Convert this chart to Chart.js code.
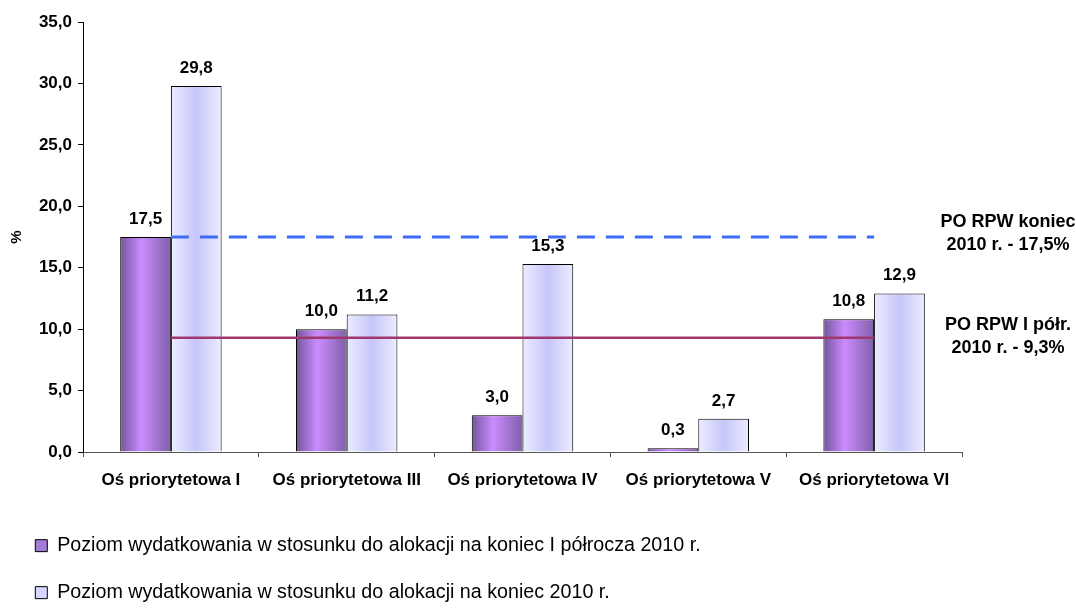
<!DOCTYPE html>
<html>
<head>
<meta charset="utf-8">
<script src="https://cdn.jsdelivr.net/npm/chart.js@4/dist/chart.umd.min.js"></script>
<style>
  html, body { margin: 0; padding: 0; background: #fff; overflow: hidden; }
  #wrap { width: 1076px; height: 608px; position: relative; }
</style>
</head>
<body>
<div id="wrap"><canvas id="c"></canvas></div>
<script>
const categories = ['Oś priorytetowa I', 'Oś priorytetowa III', 'Oś priorytetowa IV', 'Oś priorytetowa V', 'Oś priorytetowa VI'];
const seriesHalf = [17.5, 10.0, 3.0, 0.3, 10.8];
const seriesYear = [29.8, 11.2, 15.3, 2.7, 12.9];
const seriesNames = [
  'Poziom wydatkowania w stosunku do alokacji na koniec I półrocza 2010 r.',
  'Poziom wydatkowania w stosunku do alokacji na koniec 2010 r.'
];
const refYear = 17.5;
const refHalf = 9.3;
const refLabels = [
  ['PO RPW koniec', '2010 r. - 17,5%'],
  ['PO RPW I półr.', '2010 r. - 9,3%']
];
const yTicks = [0, 5, 10, 15, 20, 25, 30, 35];

const FONT = "'Liberation Sans', Arial, sans-serif";
const CAT_PCT = 0.577;
const fmt = v => v.toFixed(1).replace('.', ',');

const gradStops = [
  [[0, '#735599'], [0.42, '#cc8cff'], [1, '#7e5fa8']],
  [[0, '#ececff'], [0.5, '#c6c6fb'], [1, '#ececff']]
];

function barFill(ctx) {
  const chart = ctx.chart;
  const xs = chart.scales && chart.scales.x;
  const stops = gradStops[ctx.datasetIndex];
  if (!chart.chartArea || !xs || ctx.dataIndex === undefined) return stops[1][1];
  const catW = xs.width / categories.length;
  const bw = catW * CAT_PCT / 2;
  const c = xs.getPixelForValue(ctx.dataIndex);
  const left = ctx.datasetIndex === 0 ? c - bw : c;
  const g = chart.ctx.createLinearGradient(left, 0, left + bw, 0);
  stops.forEach(s => g.addColorStop(s[0], s[1]));
  return g;
}

const refLine = (vals, color, dash, w) => ({
  type: 'line',
  data: categories.map(() => vals),
  borderColor: color,
  borderWidth: w,
  borderDash: dash,
  pointRadius: 0,
  pointHoverRadius: 0,
  fill: false,
  order: 0
});

const valueLabels = {
  id: 'valueLabels',
  afterDatasetsDraw(chart) {
    const ctx = chart.ctx;
    ctx.save();
    ctx.font = 'bold 17px ' + FONT;
    ctx.fillStyle = '#000';
    ctx.textAlign = 'center';
    ctx.textBaseline = 'middle';
    [0, 1].forEach(di => {
      const meta = chart.getDatasetMeta(di);
      meta.data.forEach((el, i) => {
        const v = chart.data.datasets[di].data[i];
        ctx.fillText(fmt(v), el.x, el.y - 18);
      });
    });
    ctx.restore();
  }
};

const sideLabels = {
  id: 'sideLabels',
  afterDraw(chart) {
    const ctx = chart.ctx;
    const ys = chart.scales.y;
    ctx.save();
    ctx.font = 'bold 18px ' + FONT;
    ctx.fillStyle = '#000';
    ctx.textAlign = 'center';
    ctx.textBaseline = 'middle';
    const xC = 1008;
    const y1 = ys.getPixelForValue(refYear);
    const y2 = ys.getPixelForValue(refHalf);
    ctx.fillText(refLabels[0][0], xC, y1 - 15);
    ctx.fillText(refLabels[0][1], xC, y1 + 8);
    ctx.fillText(refLabels[1][0], xC, y2 - 13);
    ctx.fillText(refLabels[1][1], xC, y2 + 10);
    ctx.restore();
  }
};

new Chart(document.getElementById('c'), {
  type: 'bar',
  data: {
    labels: categories,
    datasets: [
      {
        label: seriesNames[0],
        data: seriesHalf,
        backgroundColor: barFill,
        borderColor: '#000',
        borderWidth: 1,
        barPercentage: 1,
        categoryPercentage: CAT_PCT,
        order: 1
      },
      {
        label: seriesNames[1],
        data: seriesYear,
        backgroundColor: barFill,
        borderColor: '#000',
        borderWidth: 1,
        barPercentage: 1,
        categoryPercentage: CAT_PCT,
        order: 1
      },
      refLine(refYear, '#3d6df2', [18, 11], 3),
      refLine(refHalf, '#a0386e', [], 2.5)
    ]
  },
  options: {
    responsive: true,
    maintainAspectRatio: false,
    animation: false,
    layout: { padding: { left: 8, right: 114, top: 22, bottom: -4.5 } },
    plugins: {
      tooltip: { enabled: false },
      legend: {
        display: true,
        position: 'bottom',
        align: 'start',
        labels: {
          boxWidth: 12,
          boxHeight: 12,
          padding: 27.3,
          color: '#000',
          font: { family: FONT, size: 19.7 },
          generateLabels: () => [
            { text: seriesNames[0], fillStyle: '#a27bd8', strokeStyle: '#000', lineWidth: 1, datasetIndex: 0 },
            { text: seriesNames[1], fillStyle: '#d6d6ff', strokeStyle: '#000', lineWidth: 1, datasetIndex: 1 }
          ]
        }
      }
    },
    scales: {
      x: {
        grid: { display: true, drawOnChartArea: false, drawTicks: true, tickLength: 5, color: '#555', offset: true },
        border: { display: true, color: '#555', width: 1 },
        ticks: { color: '#000', font: { family: FONT, size: 17, weight: 'bold' }, padding: 13, maxRotation: 0, autoSkip: false },
        afterFit(scale) { scale.height = 56.5; }
      },
      y: {
        min: 0,
        max: 35,
        afterBuildTicks(scale) { scale.ticks = yTicks.map(v => ({ value: v })); },
        grid: { display: true, drawOnChartArea: false, drawTicks: true, tickLength: 5, color: '#000' },
        border: { display: true, color: '#000', width: 1 },
        ticks: { color: '#000', font: { family: FONT, size: 17, weight: 'bold' }, padding: 6, callback: v => fmt(v) },
        title: { display: true, text: '%', color: '#000', font: { family: FONT, size: 15, weight: 'bold' }, padding: { top: 0, bottom: 0 } },
        afterFit(scale) { scale.width = 75; }
      }
    }
  },
  plugins: [valueLabels, sideLabels]
});
</script>
</body>
</html>
